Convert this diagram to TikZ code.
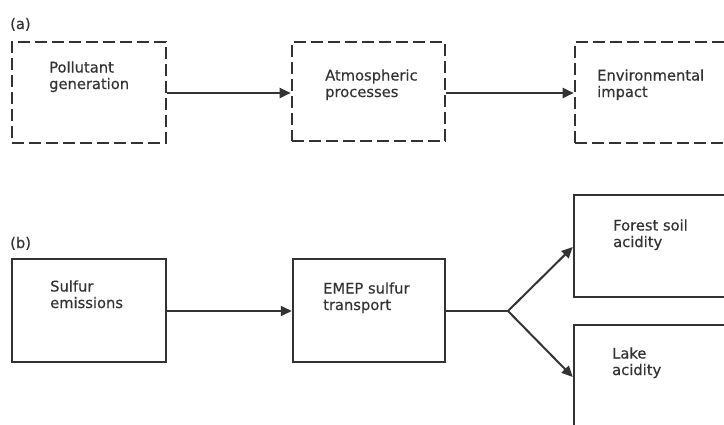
\documentclass[tikz,border=0pt]{standalone}
\usepackage{fontspec}
\setmainfont{DejaVu Sans}[BoldFont={DejaVu Sans},BoldFeatures={FakeBold=0.5}]
\usetikzlibrary{arrows.meta}
\definecolor{ink}{HTML}{333333}
\tikzset{
  dbox/.style={draw=ink, line width=2.6pt, dash pattern=on 12pt off 5pt, rectangle, inner sep=0pt},
  sbox/.style={draw=ink, line width=2.5pt, rectangle, inner sep=0pt},
  txt/.style={anchor=base west, align=left, inner sep=0pt, text=ink, font=\fontsize{14.7}{16.5}\selectfont\bfseries},
  conn/.style={draw=ink, line width=2pt},
  arr/.style={conn, -{Triangle[length=11pt,width=10pt]}},
}
\begin{document}
\begin{tikzpicture}[x=1pt,y=-1pt]
\useasboundingbox (0,0) rectangle (724,424);
\clip (0,0) rectangle (724,424);
% (a)
\node[txt] (la) at (10,29) {(a)};
\node[dbox, minimum width=154pt, minimum height=101pt] (p1) at (89,92.5) {};
\node[dbox, minimum width=153pt, minimum height=99pt] (p2) at (368.5,91.5) {};
\node[dbox, minimum width=160pt, minimum height=101pt] (p3) at (655,92.5) {};
\node[txt] (t1) at (49,89) {Pollutant\\generation};
\node[txt] (t2) at (325,97) {Atmospheric\\processes};
\node[txt] (t3) at (597,97) {Environmental\\impact};
\draw[arr] (p1.east |- 0,93) -- (p2.west |- 0,93);
\draw[arr] (p2.east |- 0,93) -- (p3.west |- 0,93);
% (b)
\node[txt] (lb) at (10,248) {(b)};
\node[sbox, minimum width=154pt, minimum height=103pt] (s1) at (89,310.5) {};
\node[sbox, minimum width=152pt, minimum height=103pt] (s2) at (369,310.5) {};
\node[sbox, minimum width=160pt, minimum height=102pt] (s3) at (654,246) {};
\node[sbox, minimum width=160pt, minimum height=110pt] (s4) at (654,380) {};
\node[txt] (u1) at (50,308) {Sulfur\\emissions};
\node[txt] (u2) at (323,310) {EMEP sulfur\\transport};
\node[txt] (u3) at (613,247) {Forest soil\\acidity};
\node[txt] (u4) at (612,375) {Lake\\acidity};
\coordinate (br) at (508,311);
\draw[arr] (s1.east |- br) -- (s2.west |- br);
\draw[conn] (s2.east |- br) -- (br);
\draw[arr] (br) -- (s3.west |- 0,247);
\draw[arr] (br) -- (s4.west |- 0,377);
\end{tikzpicture}
\end{document}
